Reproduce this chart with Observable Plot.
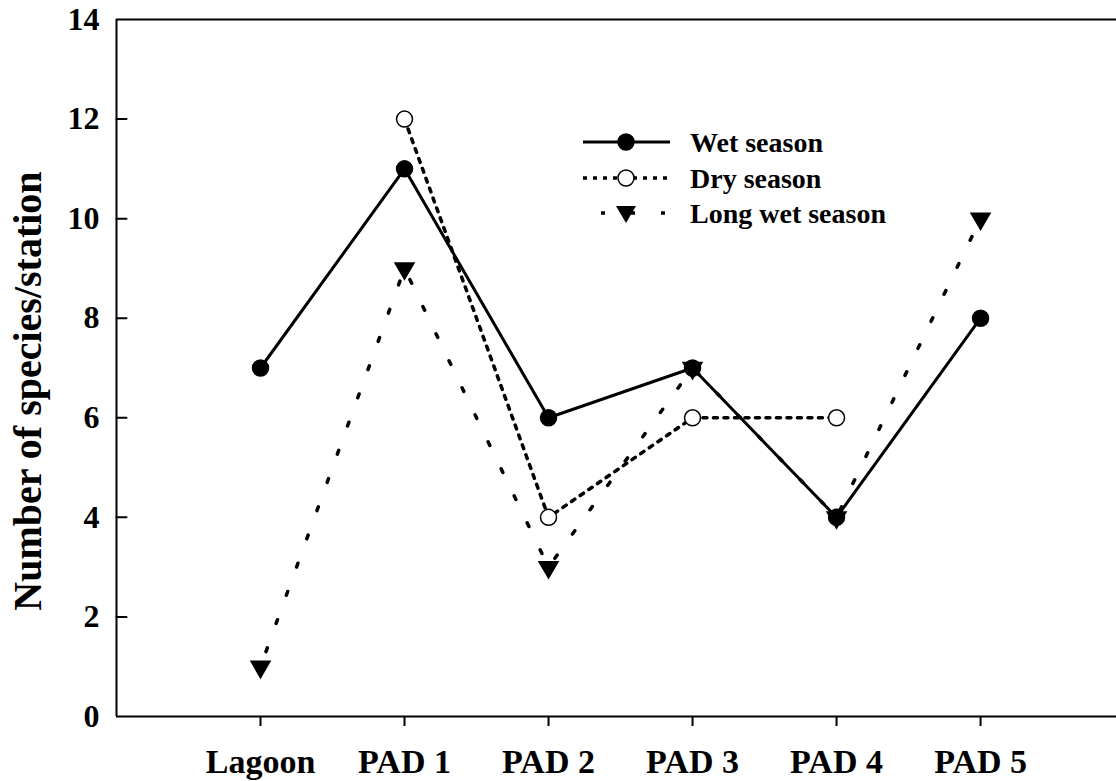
<!DOCTYPE html>
<html>
<head>
<meta charset="utf-8">
<script src="https://cdn.jsdelivr.net/npm/d3@7"></script>
<script src="https://cdn.jsdelivr.net/npm/@observablehq/plot@0.6"></script>
<style>
  html, body { margin: 0; padding: 0; background: white; }
  #wrap { position: relative; width: 1116px; height: 781px; }
  #legend { position: absolute; left: 0; top: 0; width: 1116px; height: 781px; pointer-events: none; }
</style>
</head>
<body>
<div id="wrap"></div>
<script>
// ---- data ----
const categories = ["Lagoon", "PAD 1", "PAD 2", "PAD 3", "PAD 4", "PAD 5"];
const wetSeason = [7, 11, 6, 7, 4, 8];
const drySeason = [null, 12, 4, 6, 6, null];
const longWetSeason = [1, 9, 3, 7, 4, 10];
const yTicks = [0, 2, 4, 6, 8, 10, 12, 14];
const seriesNames = ["Wet season", "Dry season", "Long wet season"];
const yTitle = "Number of species/station";

const rows = categories.map((c, i) => ({i, cat: c, wet: wetSeason[i], dry: drySeason[i], longWet: longWetSeason[i]}));
const xIdx = categories.map((c, i) => i);
const xDomain = [-1, 5.944];
const font = "'Liberation Serif', 'Times New Roman', serif";

const tickShape = {draw(ctx, l) { ctx.moveTo(0, 0); ctx.lineTo(0, -l); }};

const chart = Plot.plot({
  width: 1116,
  height: 781,
  marginLeft: 116,
  marginRight: 0,
  marginTop: 19,
  marginBottom: 65,
  style: {fontFamily: font, fontWeight: "bold", background: "white", color: "black", overflow: "visible"},
  x: {type: "linear", domain: xDomain},
  y: {domain: [0, 14]},
  marks: [
    Plot.axisX(xIdx, {tickSize: 10, tickPadding: 22, strokeWidth: 2, fontSize: 34, tickFormat: i => categories[i], label: null}),
    Plot.axisY(yTicks, {tickSize: 0, tickPadding: 17, fontSize: 32, tickFormat: d => String(d), label: null}),
    Plot.vector(yTicks.filter(v => v > 0 && v < 14), {x: () => xDomain[0], y: d => d, length: 10, rotate: 90, anchor: "start", strokeWidth: 2, stroke: "black", shape: tickShape}),
    Plot.ruleY([0, 14], {strokeWidth: 2}),
    Plot.ruleX([xDomain[0]], {strokeWidth: 2}),
    Plot.text([yTitle], {frameAnchor: "left", text: d => d, rotate: -90, dx: -88, dy: 23, textAnchor: "middle", fontSize: 40, fontWeight: "bold"}),
    Plot.line(rows, {x: "i", y: "longWet", stroke: "black", strokeWidth: 3.5, strokeDasharray: "4,26", strokeDashoffset: 14}),
    Plot.line(rows, {x: "i", y: "dry", stroke: "black", strokeWidth: 3.5, strokeDasharray: "4,6.5"}),
    Plot.line(rows, {x: "i", y: "wet", stroke: "black", strokeWidth: 3}),
    Plot.dot(rows, {x: "i", y: "wet", r: 8, fill: "black", stroke: "black"}),
    Plot.dot(rows.filter(d => d.dry != null), {x: "i", y: "dry", r: 8, fill: "white", stroke: "black", strokeWidth: 1.5}),
    Plot.dot(rows, {x: "i", y: "longWet", symbol: "triangle", r: 8, fill: "black", rotate: 180})
  ]
});

const wrap = document.getElementById("wrap");
wrap.appendChild(chart);

// legend overlay
const svgNS = "http://www.w3.org/2000/svg";
const leg = document.createElementNS(svgNS, "svg");
leg.setAttribute("id", "legend");
leg.setAttribute("width", 1116);
leg.setAttribute("height", 781);
const legY = [142, 178, 213];
const styles = [
  {dash: null, w: 3, offset: 0},
  {dash: "4,6", w: 3.5, offset: 0},
  {dash: "4,26", w: 3.5, offset: 12}
];
seriesNames.forEach((name, k) => {
  const y = legY[k];
  const line = document.createElementNS(svgNS, "line");
  line.setAttribute("x1", 583); line.setAttribute("x2", 670);
  line.setAttribute("y1", y); line.setAttribute("y2", y);
  line.setAttribute("stroke", "black");
  line.setAttribute("stroke-width", styles[k].w);
  if (styles[k].dash) { line.setAttribute("stroke-dasharray", styles[k].dash); line.setAttribute("stroke-dashoffset", styles[k].offset); }
  leg.appendChild(line);
  if (k === 2) {
    const tri = document.createElementNS(svgNS, "path");
    tri.setAttribute("d", `M${626 - 10},${y - 7} L${626 + 10},${y - 7} L${626},${y + 10} Z`);
    tri.setAttribute("fill", "black");
    leg.appendChild(tri);
  } else {
    const c = document.createElementNS(svgNS, "circle");
    c.setAttribute("cx", 626); c.setAttribute("cy", y); c.setAttribute("r", 8);
    c.setAttribute("fill", k === 0 ? "black" : "white");
    c.setAttribute("stroke", "black");
    c.setAttribute("stroke-width", 1.5);
    leg.appendChild(c);
  }
  const t = document.createElementNS(svgNS, "text");
  t.setAttribute("x", 690); t.setAttribute("y", y);
  t.setAttribute("dy", "0.35em");
  t.setAttribute("font-family", font);
  t.setAttribute("font-weight", "bold");
  t.setAttribute("font-size", 28);
  t.textContent = name;
  leg.appendChild(t);
});
wrap.appendChild(leg);
</script>
</body>
</html>
